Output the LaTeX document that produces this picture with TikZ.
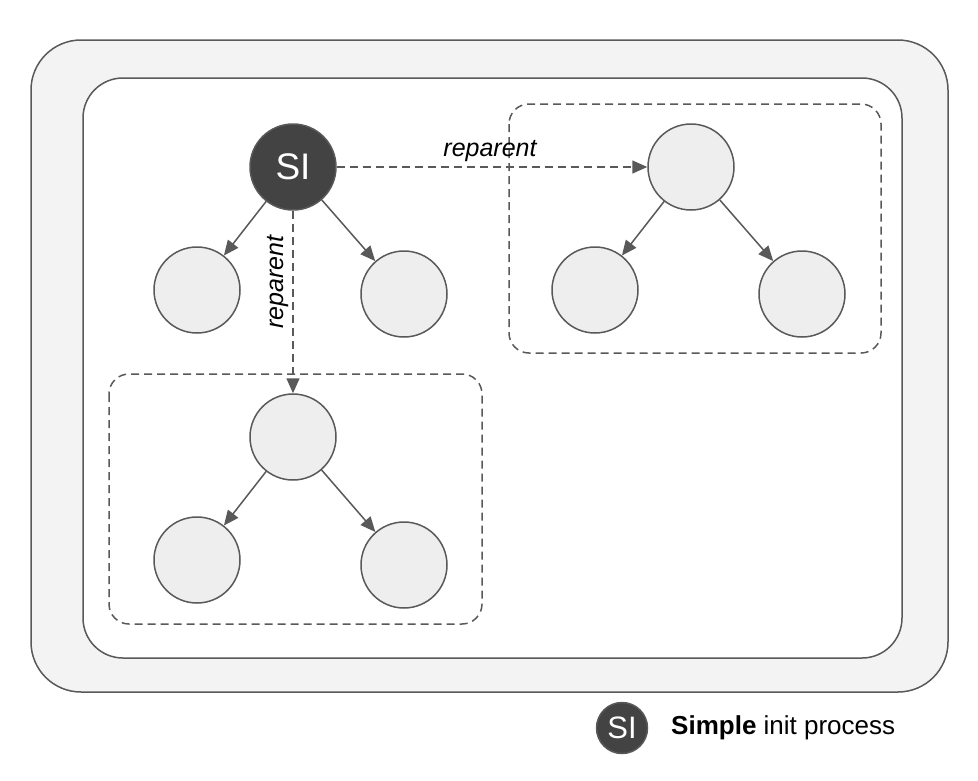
\documentclass[tikz,border=0pt]{standalone}
\usepackage{fontspec}
\setmainfont{Liberation Sans}
\usetikzlibrary{arrows.meta}
\definecolor{edgec}{HTML}{595959}
\definecolor{darkc}{HTML}{434343}
\definecolor{nodefill}{HTML}{EEEEEE}
\definecolor{bgc}{HTML}{F3F3F3}
\tikzset{
  proc/.style={circle, draw=edgec, fill=nodefill, line width=1.5pt, minimum size=86pt, inner sep=0pt},
  sinode/.style={circle, draw=edgec, fill=darkc, line width=1.5pt, minimum size=86pt, inner sep=0pt, text=white, font=\fontsize{37}{40}\selectfont},
  child/.style={draw=edgec, line width=1.5pt, -{Triangle[length=15pt,width=13pt]}},
  reparentarrow/.style={draw=edgec, line width=1.5pt, dash pattern=on 8pt off 5pt, -{Triangle[length=15pt,width=13pt]}},
  groupbox/.style={draw=edgec, line width=1.5pt, dash pattern=on 8pt off 5pt, rounded corners=20pt},
  lbl/.style={font=\fontsize{25}{28}\selectfont\itshape, inner sep=0pt}
}
\begin{document}
\begin{tikzpicture}[x=1pt,y=-1pt]
\useasboundingbox (0,0) rectangle (978,780);
% outer frames
\draw[draw=edgec, fill=bgc, line width=1.5pt, rounded corners=50pt] (31,40) rectangle (948,692);
\draw[draw=edgec, fill=white, line width=1.5pt, rounded corners=40pt] (83,78) rectangle (902,658);
% group boxes
\draw[groupbox] (509,104) rectangle (881,353);
\draw[groupbox] (109,374) rectangle (482,624);
% nodes
\node[sinode] (si) at (293,167) {SI};
\node[proc] (l1) at (197,290) {};
\node[proc] (r1) at (404,294) {};
\node[proc] (tr) at (691,167) {};
\node[proc] (trl) at (595,290) {};
\node[proc] (trr) at (802,294) {};
\node[proc] (br) at (293,437) {};
\node[proc] (brl) at (197,560) {};
\node[proc] (brr) at (404,565) {};
% edges
\draw[child] (si) -- (l1);
\draw[child] (si) -- (r1);
\draw[child] (tr) -- (trl);
\draw[child] (tr) -- (trr);
\draw[child] (br) -- (brl);
\draw[child] (br) -- (brr);
\draw[reparentarrow] (si) -- (tr);
\draw[reparentarrow] (si) -- (br);
% labels
\node[lbl, anchor=base] (lblh) at (490,156) {reparent};
\node[lbl, rotate=90] (lblv) at (278,282) {reparent};
% legend
\node[sinode, minimum size=51pt, font=\fontsize{31}{33}\selectfont] (lsi) at (622,728) {SI};
\node[anchor=west, inner sep=0pt, font=\fontsize{26}{29}\selectfont] (ltext) at (671,728) {\textbf{Simple} init process};
\end{tikzpicture}
\end{document}
